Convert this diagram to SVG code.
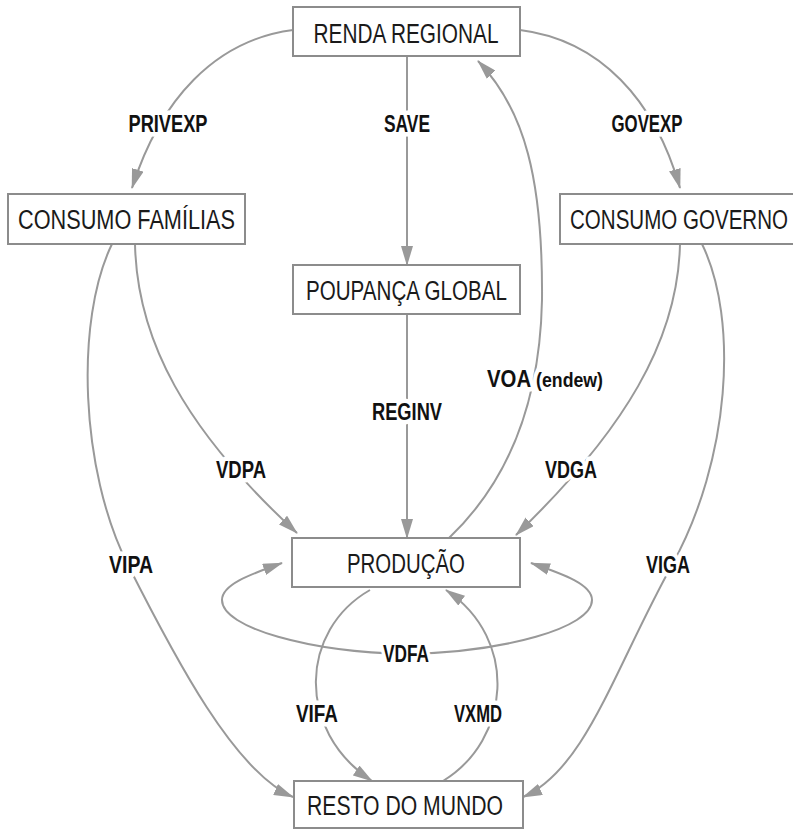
<svg xmlns="http://www.w3.org/2000/svg" width="793" height="829" viewBox="0 0 793 829">
<style>
.box{fill:#fff;stroke:#8c8c8c;stroke-width:2}
.nt{font-family:"Liberation Sans",Arial,sans-serif;font-size:27px;fill:#1a1a1a;text-anchor:middle}
.c{fill:none;stroke:#999;stroke-width:2}
.lb{font-family:"Liberation Sans",Arial,sans-serif;font-weight:bold;font-size:23px;fill:#111;text-anchor:middle;stroke:#fff;stroke-width:9;paint-order:stroke;stroke-linejoin:round}
</style>
<defs>
<marker id="ah" markerUnits="userSpaceOnUse" viewBox="0 0 20 12" refX="19" refY="6" markerWidth="20" markerHeight="12" orient="auto-start-reverse">
<path d="M0,0 L20,6 L0,12 z" fill="#999"/>
</marker>
</defs>
<rect width="793" height="829" fill="#fff"/>
<g id="connectors">
<path class="c" d="M293,30 C215,40 160,100 132,188" marker-end="url(#ah)"/>
<path class="c" d="M407,56 L407,265" marker-end="url(#ah)"/>
<path class="c" d="M520,30 C600,40 655,100 680,188" marker-end="url(#ah)"/>
<path class="c" d="M112,244 C75,320 80,470 128,565 S235,772 293,797" marker-end="url(#ah)"/>
<path class="c" d="M135,244 C137,340 185,430 297,533" marker-end="url(#ah)"/>
<path class="c" d="M449,538 C510,480 540,400 542,300 C543,180 525,110 478,61" marker-end="url(#ah)"/>
<path class="c" d="M407,314 L407,538" marker-end="url(#ah)"/>
<path class="c" d="M680,244 C678,340 625,430 516,535" marker-end="url(#ah)"/>
<path class="c" d="M702,244 C739,320 730,460 672,565 S585,770 523,797" marker-end="url(#ah)"/>
<path class="c" d="M370,590 C300,630 295,730 372,781" marker-end="url(#ah)"/>
<path class="c" d="M443,781 C510,740 520,640 446,590" marker-end="url(#ah)"/>
<path class="c" d="M282,563 C248,575 222,585 222,600 C222,628 310,652 407,654 C504,652 592,628 592,600 C592,585 566,575 531,563" marker-start="url(#ah)" marker-end="url(#ah)"/>
</g>
<g id="labels">
<text class="lb" x="168" y="132" textLength="79" lengthAdjust="spacingAndGlyphs">PRIVEXP</text>
<text class="lb" x="407" y="132" textLength="46" lengthAdjust="spacingAndGlyphs">SAVE</text>
<text class="lb" x="647" y="132" textLength="71" lengthAdjust="spacingAndGlyphs">GOVEXP</text>
<text class="lb" x="407" y="420" textLength="70" lengthAdjust="spacingAndGlyphs">REGINV</text>
<text class="lb" x="545" y="387" textLength="116" lengthAdjust="spacingAndGlyphs">VOA <tspan font-size="20">(endew)</tspan></text>
<text class="lb" x="241" y="478" textLength="50" lengthAdjust="spacingAndGlyphs">VDPA</text>
<text class="lb" x="571" y="478" textLength="52" lengthAdjust="spacingAndGlyphs">VDGA</text>
<text class="lb" x="131" y="573" textLength="44" lengthAdjust="spacingAndGlyphs">VIPA</text>
<text class="lb" x="668" y="573" textLength="44" lengthAdjust="spacingAndGlyphs">VIGA</text>
<text class="lb" x="406" y="662" textLength="46" lengthAdjust="spacingAndGlyphs">VDFA</text>
<text class="lb" x="317" y="722" textLength="42" lengthAdjust="spacingAndGlyphs">VIFA</text>
<text class="lb" x="478" y="722" textLength="48" lengthAdjust="spacingAndGlyphs">VXMD</text>
</g>
<g id="renda">
<rect class="box" x="293" y="7" width="227" height="49"/>
<text class="nt" x="406" y="43" textLength="185" lengthAdjust="spacingAndGlyphs">RENDA REGIONAL</text>
</g>
<g id="consumo-familias">
<rect class="box" x="8" y="194" width="237" height="50"/>
<text class="nt" x="126.5" y="229" textLength="217" lengthAdjust="spacingAndGlyphs">CONSUMO FAMÍLIAS</text>
</g>
<g id="consumo-governo">
<rect class="box" x="560" y="194" width="240" height="50"/>
<text class="nt" x="679" y="229" textLength="218" lengthAdjust="spacingAndGlyphs">CONSUMO GOVERNO</text>
</g>
<g id="poupanca">
<rect class="box" x="293" y="265" width="227" height="49"/>
<text class="nt" x="406.5" y="300" textLength="201" lengthAdjust="spacingAndGlyphs">POUPANÇA GLOBAL</text>
</g>
<g id="producao">
<rect class="box" x="292" y="538" width="228" height="49"/>
<text class="nt" x="406" y="573" textLength="118" lengthAdjust="spacingAndGlyphs">PRODUÇÃO</text>
</g>
<g id="resto">
<rect class="box" x="294" y="781" width="229" height="47"/>
<text class="nt" x="405" y="815" textLength="196" lengthAdjust="spacingAndGlyphs">RESTO DO MUNDO</text>
</g>
</svg>
